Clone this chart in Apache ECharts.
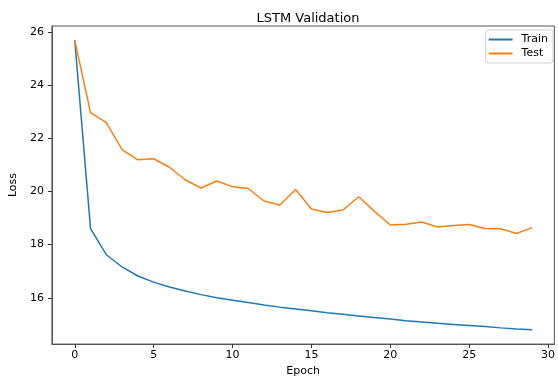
<!DOCTYPE html>
<html>
<head>
<meta charset="utf-8">
<script src="https://cdn.jsdelivr.net/npm/echarts@6/dist/echarts.min.js"></script>
<style>
  html, body { margin: 0; padding: 0; background: #fff; }
  #chart { width: 558px; height: 382px; }
</style>
</head>
<body>
<div id="chart"></div>
<script>
// Per-epoch loss for the LSTM model
const epochs = Array.from({ length: 30 }, (_, i) => i);
const trainLoss = [
  25.68, 18.60, 17.62, 17.16, 16.82, 16.59, 16.41, 16.26, 16.12, 16.00,
  15.91, 15.82, 15.73, 15.65, 15.58, 15.51, 15.44, 15.38, 15.32, 15.26,
  15.20, 15.14, 15.09, 15.04, 15.00, 14.96, 14.92, 14.87, 14.83, 14.80
];
const testLoss = [
  25.68, 22.96, 22.59, 21.57, 21.19, 21.23, 20.91, 20.44, 20.13, 20.39,
  20.18, 20.11, 19.64, 19.49, 20.07, 19.34, 19.21, 19.30, 19.80, 19.25,
  18.74, 18.77, 18.85, 18.66, 18.72, 18.76, 18.61, 18.60, 18.42, 18.64
];
const xTicks = [0, 5, 10, 15, 20, 25, 30];
const yTicks = [16, 18, 20, 22, 24, 26];

const font = 'DejaVu Sans';
const pair = arr => epochs.map((e, i) => [e, arr[i]]);

const chart = echarts.init(document.getElementById('chart'), null, { renderer: 'canvas' });
chart.setOption({
  animation: false,
  backgroundColor: '#fff',
  title: {
    text: 'LSTM Validation',
    left: 303, top: 7, textAlign: 'center',
    textStyle: { fontFamily: font, fontSize: 13, fontWeight: 'normal', color: '#000' }
  },
  grid: {
    left: 50, right: 2, top: 26, bottom: 31,
    show: true, borderColor: '#555', borderWidth: 1, backgroundColor: 'transparent'
  },
  legend: {
    orient: 'vertical', right: 5, top: 30,
    data: ['Train', 'Test'],
    icon: 'rect', itemWidth: 24, itemHeight: 2, itemGap: 3,
    backgroundColor: '#fff', borderColor: '#d0d0d0', borderWidth: 1, borderRadius: 3,
    padding: [4, 5, 4, 3],
    textStyle: { fontFamily: font, fontSize: 11, color: '#000', padding: [0, 0, 0, 4] }
  },
  xAxis: {
    type: 'value', min: -1.45, max: 30.4,
    name: 'Epoch', nameLocation: 'middle', nameGap: 19,
    nameTextStyle: { fontFamily: font, fontSize: 11, color: '#000' },
    axisLine: { show: true, onZero: false, lineStyle: { color: '#555', width: 1 } },
    axisTick: { show: true, inside: false, length: 4, customValues: xTicks, lineStyle: { color: '#333' } },
    axisLabel: { customValues: xTicks, margin: 6, fontFamily: font, fontSize: 11, color: '#000' },
    splitLine: { show: false }
  },
  yAxis: {
    type: 'value', min: 14.26, max: 26.22,
    name: 'Loss', nameLocation: 'middle', nameGap: 30, nameRotate: 90,
    nameTextStyle: { fontFamily: font, fontSize: 11, color: '#000' },
    axisLine: { show: true, onZero: false, lineStyle: { color: '#555', width: 1 } },
    axisTick: { show: true, inside: false, length: 4, customValues: yTicks, lineStyle: { color: '#333' } },
    axisLabel: { customValues: yTicks, margin: 8, fontFamily: font, fontSize: 11, color: '#000' },
    splitLine: { show: false }
  },
  series: [
    {
      name: 'Train', type: 'line', data: pair(trainLoss),
      showSymbol: false, symbol: 'none',
      lineStyle: { color: '#1f77b4', width: 1.5 }, itemStyle: { color: '#1f77b4' }
    },
    {
      name: 'Test', type: 'line', data: pair(testLoss),
      showSymbol: false, symbol: 'none',
      lineStyle: { color: '#ff7f0e', width: 1.5 }, itemStyle: { color: '#ff7f0e' }
    }
  ]
});
</script>
</body>
</html>
